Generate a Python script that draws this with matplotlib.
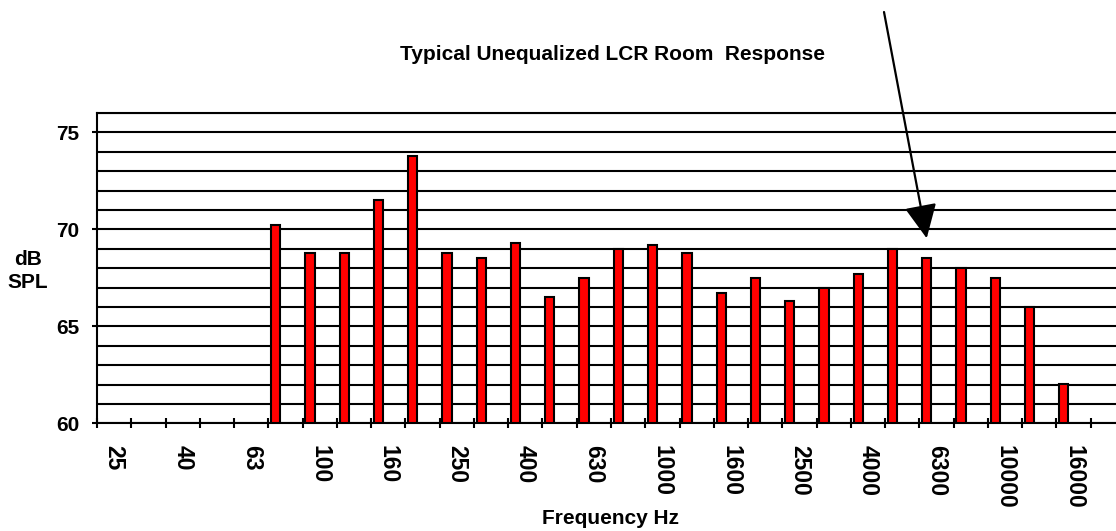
import matplotlib
matplotlib.use("Agg")
import matplotlib.pyplot as plt
from matplotlib.ticker import FixedLocator, MultipleLocator

# ---- data ----
frequencies = ["25", "31.5", "40", "50", "63", "80", "100", "125", "160", "200",
               "250", "315", "400", "500", "630", "800", "1000", "1250", "1600",
               "2000", "2500", "3150", "4000", "5000", "6300", "8000", "10000",
               "12500", "16000", "20000"]
spl_db = [None, None, None, None, None, 70.2, 68.8, 68.8, 71.5, 73.8,
          68.8, 68.5, 69.3, 66.5, 67.5, 69.0, 69.2, 68.8, 66.7, 67.5,
          66.3, 67.0, 67.7, 69.0, 68.5, 68.0, 67.5, 66.0, 62.0, None]
tick_labels = ["25", "40", "63", "100", "160", "250", "400", "630", "1000",
               "1600", "2500", "4000", "6300", "10000", "16000"]
title_text = "Typical Unequalized LCR Room  Response"
y_label = "dB\nSPL"
x_label = "Frequency Hz"

plt.rcParams['font.family'] = ['Liberation Sans', 'DejaVu Sans']
plt.rcParams['font.weight'] = 'bold'

W, H = 1116, 531
fig = plt.figure(figsize=(W / 100, H / 100), dpi=100)
ax = fig.add_axes([97 / W, (H - 423.3) / H, 1028 / W, (423.3 - 112.9) / H])

idx = [i for i, v in enumerate(spl_db) if v is not None]
vals = [spl_db[i] for i in idx]
bar_w = 0.27
xs = [i - 0.5 + 0.08 + bar_w / 2 for i in idx]
ax.bar(xs, [v - 60 for v in vals], bottom=60, width=bar_w, color="#FF0000",
       edgecolor="black", linewidth=1.5, zorder=3)

ax.set_xlim(-0.5, len(frequencies) - 0.5)
ax.set_ylim(60, 76)

# y axis
ax.yaxis.set_major_locator(FixedLocator([60, 65, 70, 75]))
ax.yaxis.set_minor_locator(MultipleLocator(1))
ax.grid(which='both', axis='y', color='black', linewidth=1.5, zorder=0)
ax.set_axisbelow(True)
ax.tick_params(axis='y', which='major', direction='out', length=3.6, width=1.5,
               pad=9, labelsize=15)
ax.tick_params(axis='y', which='minor', length=0)

# x axis: labels at category centres (every other), ticks at boundaries
label_pos = [frequencies.index(t) for t in tick_labels]
ax.set_xticks(label_pos)
ax.set_xticklabels(tick_labels, rotation=-90, fontsize=16.5, fontweight='bold',
                   va='top', ha='center')
ax.tick_params(axis='x', which='major', length=0, pad=15.5)
ax.xaxis.set_minor_locator(FixedLocator([i - 0.5 for i in range(len(frequencies) + 1)]))
ax.tick_params(axis='x', which='minor', direction='inout', length=6.5, width=1.5)

for lbl in ax.get_yticklabels():
    lbl.set_fontweight('bold')

for s in ['left', 'bottom', 'top', 'right']:
    ax.spines[s].set_linewidth(1.5)
    ax.spines[s].set_color('black')

fig.text(28 / W, 1 - 271 / H, y_label, ha='center', va='center', fontsize=15,
         fontweight='bold', linespacing=1.25)
fig.text(610 / W, 1 - 518 / H, x_label, ha='center', va='center', fontsize=15,
         fontweight='bold')
fig.text(613 / W, 1 - 55 / H, title_text, ha='center', va='center', fontsize=15,
         fontweight='bold')

ax.annotate("", xy=(926.7, H - 238.3), xycoords='figure pixels',
            xytext=(884, H - 12), textcoords='figure pixels',
            arrowprops=dict(arrowstyle="-|>,head_length=21,head_width=10",
                            mutation_scale=1, color='black', lw=1.6,
                            shrinkA=0, shrinkB=0),
            annotation_clip=False)

fig.savefig("out.png", dpi=100)
